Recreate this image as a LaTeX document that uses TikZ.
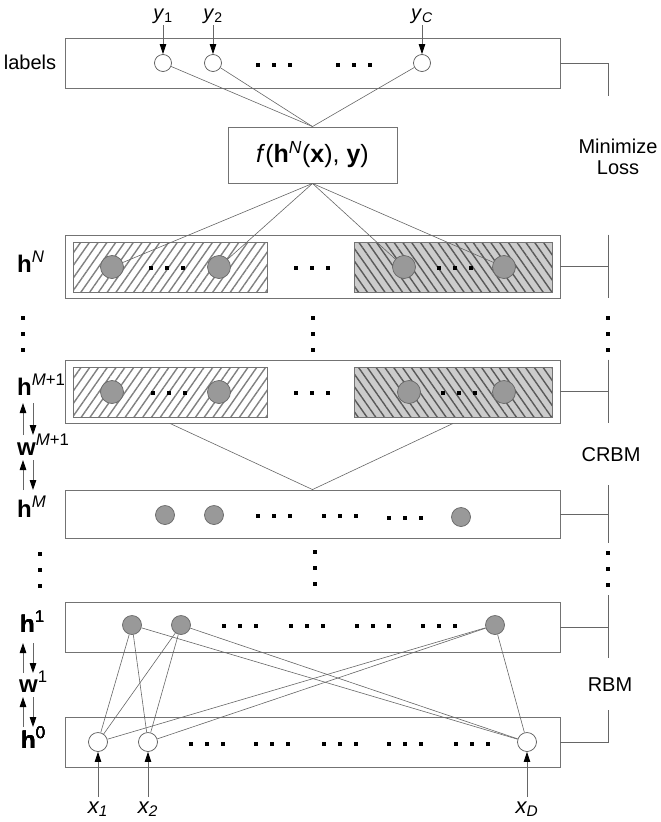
\documentclass[tikz,border=0pt]{standalone}
\usepackage{fontspec}
\setmainfont{Liberation Sans}
\usetikzlibrary{arrows.meta,patterns.meta}

\tikzset{
  layer/.style={draw=black!55, line width=0.9pt, minimum width=495pt, inner sep=0pt},
  visnode/.style={circle, draw=black!65, line width=0.7pt, fill=white, inner sep=0pt, minimum size=#1},
  visnode/.default=17pt,
  hidnode/.style={circle, draw=black!60, line width=0.7pt, fill=black!40, inner sep=0pt, minimum size=#1},
  hidnode/.default=19pt,
  hatchl/.style={draw=black!55, line width=0.8pt, minimum height=50pt, inner sep=0pt,
    pattern={Lines[angle=55,distance=7.2pt,line width=1.4pt]}, pattern color=black!50},
  hatchr/.style={hatchl, preaction={fill=black!20},
    pattern={Lines[angle=-55,distance=7.2pt,line width=1.4pt]}, pattern color=black!65},
  conn/.style={draw=black!60, line width=0.6pt},
  inarrow/.style={draw=black!60, line width=0.8pt, -{Triangle[length=10pt,width=6.5pt,color=black]}},
  txt/.style={inner sep=0pt, font=\fontsize{20}{21}\selectfont},
  htxt/.style={inner sep=0pt, anchor=base west, font=\fontsize{24}{26}\selectfont},
}
\newcommand{\dotrow}[2]{\foreach \d in {-16,0,16}{\fill ({#1+\d-2.2},{#2-2.2}) rectangle ++(4.4,4.4);}}
\newcommand{\dotcol}[2]{\foreach \d in {-16,0,16}{\fill ({#1-2.2},{#2+\d-2.2}) rectangle ++(4.4,4.4);}}

\begin{document}
\begin{tikzpicture}[x=1pt,y=-1pt]
\useasboundingbox (0,0) rectangle (661,822);
\coordinate (rail) at (608,0);

% labels and loss
\node[layer, minimum height=50pt] (lab) at (312.5,63) {};
\node[txt, anchor=base] (labt) at (30,69) {labels};
\foreach \n/\x/\ytext in {y1/163/{\textit{y}\textsubscript{1}}, y2/213/{\textit{y}\textsubscript{2}}, yC/422/{\textit{y}\textsubscript{\textit{C}}}}{
  \node[visnode] (\n) at (\x,63) {};
  \node[txt, anchor=base] (\n t) at (\x,19) {\ytext};
  \coordinate (\n in) at (\x,25);
  \draw[inarrow] (\n in) -- (\n);
}
\dotrow{274}{65}
\dotrow{354}{65}
\node[layer, minimum width=169pt, minimum height=56pt, font=\fontsize{25}{26}\selectfont] (loss) at (312.5,155)
  {\textit{f}(\textbf{h}\textsuperscript{\textit{N}}(\textbf{x}), \textbf{y})};
\foreach \n in {y1,y2,yC} \draw[conn] (\n) -- (loss.north);
\draw[conn] (lab.east) -- (lab.east -| rail) -- ++(0,33);
\node[txt, align=center] (minloss) at (618,157) {Minimize\\Loss};

% h^N
\node[layer, minimum height=63pt] (hN) at (312.5,266.5) {};
\node[hatchl, minimum width=194pt] (hNl) at (170,267) {};
\node[hatchr, minimum width=198pt] (hNr) at (453,267) {};
\foreach \n/\x in {hNa/112,hNb/219,hNc/404,hNd/504}{
  \node[hidnode=23pt] (\n) at (\x,267) {};
  \draw[conn] (loss.south) -- (\n);
}
\dotrow{167}{268} \dotrow{455}{268} \dotrow{312}{268}
\node[htxt] (hNt) at (17,272) {\textbf{h}\textsuperscript{\textit{N}}};
\draw[conn] (hN.east) -- (hN.east -| rail);
\draw[conn] (rail |- hN.north) -- (rail |- hN.south);
\dotcol{23}{334} \dotcol{313}{334} \dotcol{608}{334}

% h^{M+1}
\node[layer, minimum height=63pt] (hMp) at (312.5,391.5) {};
\node[hatchl, minimum width=194pt] (hMpl) at (170,392) {};
\node[hatchr, minimum width=198pt] (hMpr) at (453,392) {};
\foreach \n/\x in {hMpa/112,hMpb/219,hMpc/409,hMpd/504} \node[hidnode=23pt] (\n) at (\x,392) {};
\dotrow{169}{393} \dotrow{459}{393} \dotrow{312}{393}
\node[htxt] (hMpt) at (17,395) {\textbf{h}\textsuperscript{\textit{M}+1}};
\node[htxt] (wMpt) at (17,455) {\textbf{w}\textsuperscript{\textit{M}+1}};
\draw[conn] (hMp.east) -- (hMp.east -| rail);
\draw[conn] (rail |- hMp.north) -- (rail |- hMp.south);
\node[txt, anchor=base] (crbm) at (611,461) {CRBM};

% h^M
\node[layer, minimum height=48pt] (hM) at (312.5,514) {};
\foreach \n/\x/\y in {hMa/165/515,hMb/214/515,hMc/461/517} \node[hidnode] (\n) at (\x,\y) {};
\dotrow{274}{516} \dotrow{340}{516} \dotrow{405}{518}
\node[htxt] (hMt) at (17,517) {\textbf{h}\textsuperscript{\textit{M}}};
\draw[conn] (hMpl.south |- hMp.south) -- (hM.north) -- (hMpr.south |- hMp.south);
\draw[conn] (hM.east) -- (hM.east -| rail);
\draw[conn] (608,485) -- (608,543);
\dotcol{40}{570} \dotcol{315}{568} \dotcol{608}{569}

% h^1
\node[layer, minimum height=50pt] (h1) at (312.5,627) {};
\foreach \n/\x in {h1a/132,h1b/181,h1c/495} \node[hidnode] (\n) at (\x,625) {};
\foreach \x in {240,307,373,439} \dotrow{\x}{626}
\node[htxt] (h1t) at (20,632) {\textbf{h}\textsuperscript{1}};
\node[htxt] (w1t) at (19,692) {\textbf{w}\textsuperscript{1}};
\draw[conn] (h1.east) -- (h1.east -| rail);
\draw[conn] (608,595) -- (608,658);
\node[txt, anchor=base] (rbm) at (610,691) {RBM};

% h^0
\node[layer, minimum height=50pt] (h0) at (312.5,742) {};
\foreach \n/\x/\sub in {x1/98/1, x2/148/2, xD/527/D}{
  \node[visnode=19pt] (\n) at (\x,742) {};
  \node[txt, anchor=base, font=\fontsize{22}{23}\selectfont] (\n t) at (\x,813) {\textit{x\textsubscript{\sub}}};
  \coordinate (\n in) at (\x,797);
  \draw[inarrow] (\n in) -- (\n);
}
\foreach \x in {207,272,340,405,472} \dotrow{\x}{744}
\node[htxt] (h0t) at (21,748) {\textbf{h}\textsuperscript{0}};
\draw[conn] (h0.east) -- (h0.east -| rail) -- ++(0,-32);
\foreach \a in {h1a,h1b,h1c} \foreach \b in {x1,x2,xD} \draw[conn] (\a) -- (\b);

% weight arrows
\foreach \ya/\yb in {403/435, 460/490, 643/673, 697/727}{
  \draw[inarrow] (23,\yb) -- (23,\ya);
  \draw[inarrow] (33,\ya) -- (33,\yb);
}
\end{tikzpicture}
\end{document}
